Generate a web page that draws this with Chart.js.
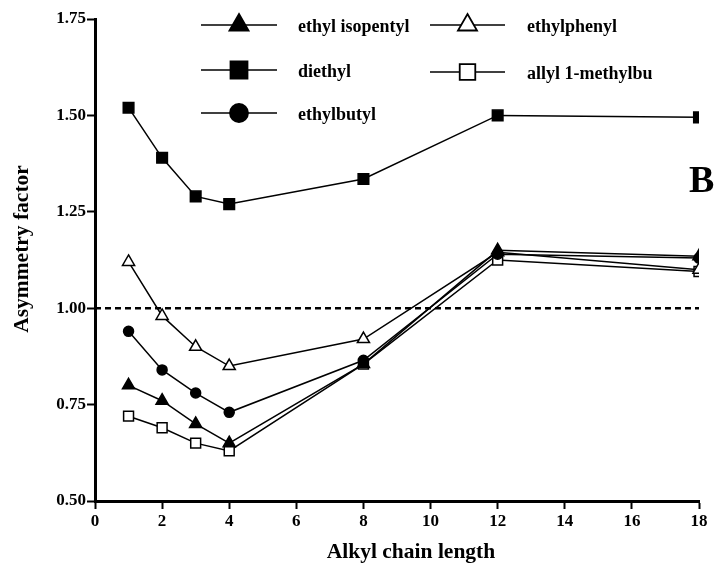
<!DOCTYPE html>
<html>
<head>
<meta charset="utf-8">
<script src="https://cdn.jsdelivr.net/npm/chart.js@4.4.0/dist/chart.umd.min.js"></script>
<style>
  html, body { margin: 0; padding: 0; background: #fff; }
  #wrap { width: 717px; height: 567px; }
</style>
</head>
<body>
<div id="wrap"><canvas id="chart" width="717" height="567"></canvas></div>
<script>
// data
const chainLength = [1, 2, 3, 4, 8, 12, 18];
const ethylIsopentyl = [0.80, 0.76, 0.70, 0.65, 0.855, 1.15, 1.135];
const diethyl = [1.52, 1.39, 1.29, 1.27, 1.335, 1.50, 1.495];
const ethylbutyl = [0.94, 0.84, 0.78, 0.73, 0.865, 1.14, 1.13];
const ethylphenyl = [1.12, 0.98, 0.90, 0.85, 0.92, 1.145, 1.10];
const allylMethylbutyl = [0.72, 0.69, 0.65, 0.63, 0.855, 1.125, 1.095];
const referenceLine = [1.0, 1.0];
const referenceX = [0, 18];
const xTicks = [0, 2, 4, 6, 8, 10, 12, 14, 16, 18];
const yTicks = [0.50, 0.75, 1.00, 1.25, 1.50, 1.75];

const FONT = "'Liberation Serif', 'Times New Roman', serif";

const toPoints = (xs, ys) => xs.map((x, i) => ({ x: x, y: ys[i] }));

function series(label, values, style, radius, filled) {
    return {
        label: label,
        data: toPoints(chainLength, values),
        borderColor: '#000',
        borderWidth: 1.5,
        backgroundColor: filled ? '#000' : '#fff',
        pointStyle: style,
        pointRadius: radius,
        pointBorderWidth: 1.5,
        pointBorderColor: '#000',
        pointBackgroundColor: filled ? '#000' : '#fff',
        tension: 0,
        fill: false
    };
}

// legend drawn inside the plot, two columns like the original
const legendSlots = [
    { ds: 0, x0: 201, x1: 277, tx: 298, y: 25, r: 11 },
    { ds: 3, x0: 430, x1: 505, tx: 527, y: 25, r: 11 },
    { ds: 1, x0: 201, x1: 277, tx: 298, y: 70, r: 12 },
    { ds: 4, x0: 430, x1: 505, tx: 527, y: 72, r: 11 },
    { ds: 2, x0: 201, x1: 277, tx: 298, y: 113, r: 9 }
];

const figureLegend = {
    id: 'figureLegend',
    afterDraw(chart) {
        const ctx = chart.ctx;
        ctx.save();
        legendSlots.forEach(slot => {
            const ds = chart.data.datasets[slot.ds];
            ctx.strokeStyle = '#000';
            ctx.lineWidth = 1.5;
            ctx.beginPath();
            ctx.moveTo(slot.x0, slot.y);
            ctx.lineTo(slot.x1, slot.y);
            ctx.stroke();
            ctx.fillStyle = ds.pointBackgroundColor;
            ctx.lineWidth = 1.8;
            Chart.helpers.drawPoint(ctx, { pointStyle: ds.pointStyle, radius: slot.r, rotation: 0, borderWidth: 1.8 },
                (slot.x0 + slot.x1) / 2, slot.y);
            ctx.fillStyle = '#000';
            ctx.font = 'bold 18px ' + FONT;
            ctx.textBaseline = 'middle';
            ctx.textAlign = 'left';
            ctx.fillText(ds.label, slot.tx, slot.y + 2);
        });

        // panel letter
        ctx.font = 'bold 38px ' + FONT;
        ctx.textAlign = 'left';
        ctx.textBaseline = 'alphabetic';
        ctx.fillText('B', 689, 192);

        // axis titles (slightly off-centre in the original)
        ctx.font = 'bold 21.5px ' + FONT;
        ctx.textAlign = 'center';
        ctx.textBaseline = 'middle';
        ctx.fillText('Alkyl chain length', 411, 552);
        ctx.translate(22, 249);
        ctx.rotate(-Math.PI / 2);
        ctx.fillText('Asymmetry factor', 0, 0);
        ctx.restore();
    }
};

const datasets = [
    series('ethyl isopentyl', ethylIsopentyl, 'triangle', 7, true),
    series('diethyl', diethyl, 'rect', 7.5, true),
    series('ethylbutyl', ethylbutyl, 'circle', 5, true),
    series('ethylphenyl', ethylphenyl, 'triangle', 7, false),
    series('allyl 1-methylbu', allylMethylbutyl, 'rect', 7, false),
    {
        label: 'reference',
        data: toPoints(referenceX, referenceLine),
        borderColor: '#000',
        borderWidth: 2.5,
        borderDash: [6, 4],
        pointRadius: 0,
        fill: false
    }
];

new Chart(document.getElementById('chart'), {
    type: 'line',
    data: { datasets: datasets },
    plugins: [figureLegend],
    options: {
        responsive: false,
        animation: false,
        layout: { padding: { top: 19, right: 18, left: 0, bottom: 0 } },
        plugins: { legend: { display: false }, tooltip: { enabled: false } },
        scales: {
            x: {
                type: 'linear',
                min: 0,
                max: 18,
                afterBuildTicks: scale => { scale.ticks = xTicks.map(v => ({ value: v })); },
                afterFit: scale => { scale.height = 66; },
                border: { display: true, color: '#000', width: 3 },
                grid: { drawOnChartArea: false, drawTicks: true, tickLength: 8, tickWidth: 2, tickColor: '#000' },
                ticks: { color: '#000', padding: 2, maxRotation: 0, font: { family: FONT, size: 17, weight: 'bold' } }
            },
            y: {
                min: 0.5,
                max: 1.75,
                afterBuildTicks: scale => { scale.ticks = yTicks.map(v => ({ value: v })); },
                afterFit: scale => { scale.width = 95; },
                border: { display: true, color: '#000', width: 3 },
                grid: { drawOnChartArea: false, drawTicks: true, tickLength: 8, tickWidth: 2, tickColor: '#000' },
                ticks: {
                    color: '#000',
                    padding: 1,
                    font: { family: FONT, size: 17, weight: 'bold' },
                    callback: v => v.toFixed(2)
                }
            }
        }
    }
});
</script>
</body>
</html>
